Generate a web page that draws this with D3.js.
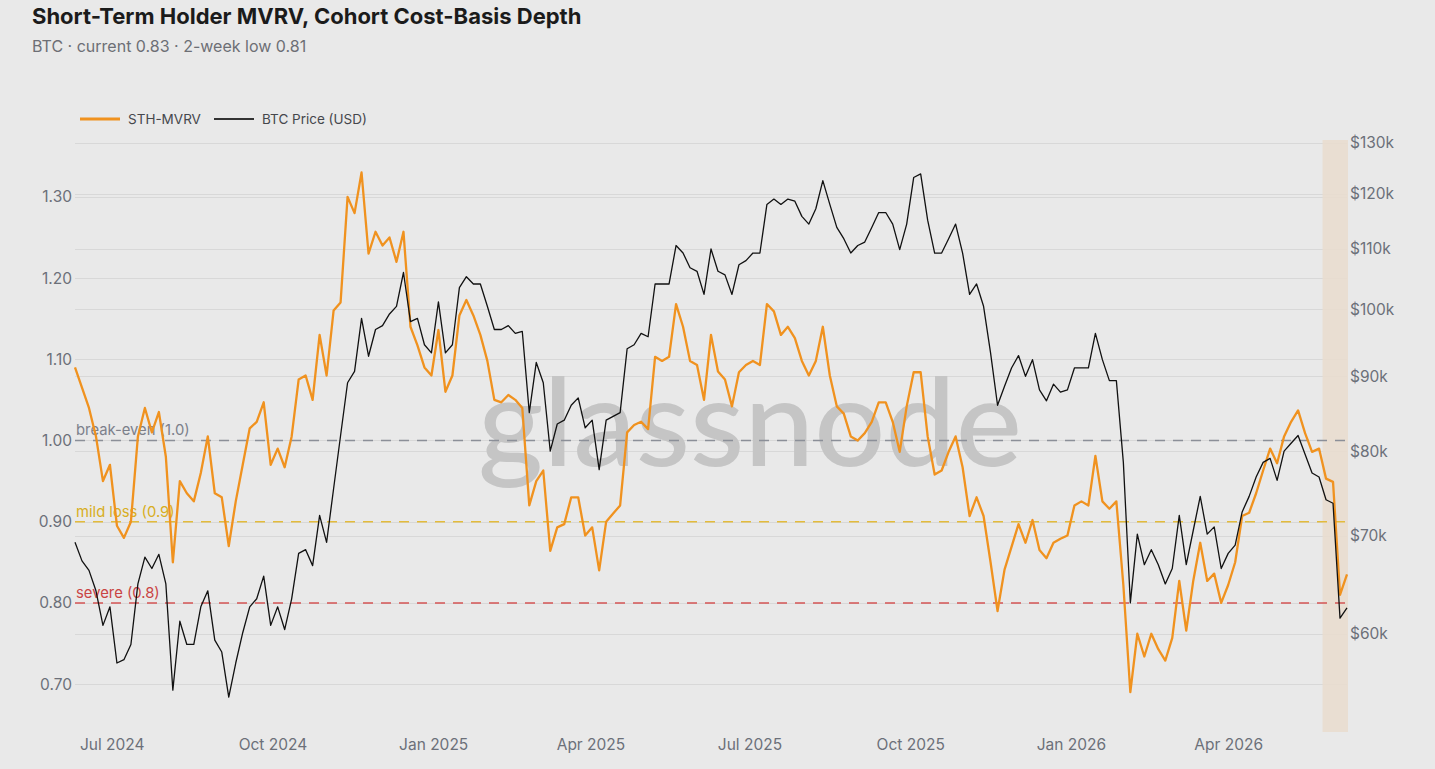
<!DOCTYPE html>
<html>
<head>
<meta charset="utf-8">
<script src="https://cdn.jsdelivr.net/npm/d3@7"></script>
<style>
  body { margin: 0; background: #e9e9e9; }
  svg { display: block; font-family: Inter, "Liberation Sans", sans-serif; }
</style>
</head>
<body>
<svg id="chart" width="1435" height="769"></svg>
<script>
var dates = [
  '2024-06-10','2024-06-14','2024-06-18','2024-06-22','2024-06-26','2024-06-30',
  '2024-07-04','2024-07-08','2024-07-12','2024-07-16','2024-07-20','2024-07-24','2024-07-28',
  '2024-08-01','2024-08-05','2024-08-09','2024-08-13','2024-08-17','2024-08-21','2024-08-25','2024-08-29',
  '2024-09-02','2024-09-06','2024-09-10','2024-09-14','2024-09-18','2024-09-22','2024-09-26','2024-09-30',
  '2024-10-04','2024-10-08','2024-10-12','2024-10-16','2024-10-20','2024-10-24','2024-10-28',
  '2024-11-01','2024-11-05','2024-11-09','2024-11-13','2024-11-17','2024-11-21','2024-11-25','2024-11-29',
  '2024-12-03','2024-12-07','2024-12-11','2024-12-15','2024-12-19','2024-12-23','2024-12-27','2024-12-31',
  '2025-01-04','2025-01-08','2025-01-12','2025-01-16','2025-01-20','2025-01-24','2025-01-28',
  '2025-02-01','2025-02-05','2025-02-09','2025-02-13','2025-02-17','2025-02-21','2025-02-25',
  '2025-03-01','2025-03-05','2025-03-09','2025-03-13','2025-03-17','2025-03-21','2025-03-25','2025-03-29',
  '2025-04-02','2025-04-06','2025-04-10','2025-04-14','2025-04-18','2025-04-22','2025-04-26','2025-04-30',
  '2025-05-04','2025-05-08','2025-05-12','2025-05-16','2025-05-20','2025-05-24','2025-05-28',
  '2025-06-01','2025-06-05','2025-06-09','2025-06-13','2025-06-17','2025-06-21','2025-06-25','2025-06-29',
  '2025-07-03','2025-07-07','2025-07-11','2025-07-15','2025-07-19','2025-07-23','2025-07-27','2025-07-31',
  '2025-08-04','2025-08-08','2025-08-12','2025-08-16','2025-08-20','2025-08-24','2025-08-28',
  '2025-09-01','2025-09-05','2025-09-09','2025-09-13','2025-09-17','2025-09-21','2025-09-25','2025-09-29',
  '2025-10-03','2025-10-07','2025-10-11','2025-10-15','2025-10-19','2025-10-23','2025-10-27','2025-10-31',
  '2025-11-04','2025-11-08','2025-11-12','2025-11-16','2025-11-20','2025-11-24','2025-11-28',
  '2025-12-02','2025-12-06','2025-12-10','2025-12-14','2025-12-18','2025-12-22','2025-12-26','2025-12-30',
  '2026-01-03','2026-01-07','2026-01-11','2026-01-15','2026-01-19','2026-01-23','2026-01-27','2026-01-31',
  '2026-02-04','2026-02-08','2026-02-12','2026-02-16','2026-02-20','2026-02-24','2026-02-28',
  '2026-03-04','2026-03-08','2026-03-12','2026-03-16','2026-03-20','2026-03-24','2026-03-28',
  '2026-04-01','2026-04-05','2026-04-09','2026-04-13','2026-04-17','2026-04-21','2026-04-25','2026-04-29',
  '2026-05-03','2026-05-07','2026-05-11','2026-05-15','2026-05-19','2026-05-23','2026-05-27','2026-05-31',
  '2026-06-04','2026-06-08'
];

var sthMvrv = [
  1.09, 1.065, 1.04, 1.005, 0.95, 0.97, 0.895, 0.88, 0.90, 1.005,
  1.04, 1.01, 1.035, 0.98, 0.85, 0.95, 0.935, 0.925, 0.96, 1.005,
  0.935, 0.93, 0.87, 0.925, 0.97, 1.015, 1.023, 1.047, 0.97, 0.99,
  0.967, 1.005, 1.075, 1.08, 1.05, 1.13, 1.08, 1.16, 1.17, 1.30,
  1.28, 1.33, 1.23, 1.257, 1.24, 1.25, 1.22, 1.257, 1.14, 1.117,
  1.09, 1.08, 1.136, 1.06, 1.08, 1.154, 1.173, 1.154, 1.13, 1.098,
  1.05, 1.047, 1.056, 1.05, 1.04, 0.92, 0.95, 0.963, 0.864, 0.893,
  0.897, 0.93, 0.93, 0.883, 0.893, 0.84, 0.90, 0.91, 0.92, 1.01,
  1.019, 1.023, 1.014, 1.103, 1.098, 1.103, 1.168, 1.14, 1.098, 1.093,
  1.05, 1.13, 1.085, 1.075, 1.042, 1.084, 1.093, 1.098, 1.093, 1.168,
  1.159, 1.13, 1.14, 1.126, 1.098, 1.08, 1.098, 1.14, 1.08, 1.042,
  1.033, 1.005, 1.00, 1.009, 1.023, 1.047, 1.047, 1.023, 0.986, 1.042,
  1.084, 1.084, 1.005, 0.958, 0.963, 0.986, 1.005, 0.967, 0.907, 0.93,
  0.907, 0.85, 0.79, 0.841, 0.869, 0.897, 0.874, 0.902, 0.865, 0.855,
  0.874, 0.879, 0.883, 0.92, 0.925, 0.92, 0.981, 0.925, 0.916, 0.925,
  0.822, 0.69, 0.762, 0.734, 0.762, 0.743, 0.729, 0.757, 0.827, 0.766,
  0.827, 0.874, 0.827, 0.836, 0.80, 0.822, 0.85, 0.907, 0.911, 0.935,
  0.963, 0.99, 0.972, 1.005, 1.023, 1.037, 1.009, 0.986, 0.99, 0.953,
  0.949, 0.81, 0.835
];

// BTC price, thousands of USD
var btcPriceK = [
  69.3, 67.3, 66.3, 64.2, 60.8, 62.6, 57.3, 57.6, 59.0, 64.9,
  67.7, 66.5, 68.0, 64.9, 54.9, 61.2, 59.0, 59.0, 62.6, 64.2,
  59.4, 58.3, 54.3, 57.3, 60.1, 62.6, 63.4, 65.7, 60.8, 62.6,
  60.4, 63.4, 68.1, 68.5, 66.8, 72.3, 69.3, 75.4, 82.0, 89.1,
  90.7, 98.6, 92.9, 96.9, 97.5, 99.3, 100.5, 106.0, 98.1, 98.6,
  94.6, 93.4, 101.2, 93.4, 94.6, 103.5, 105.3, 104.1, 104.1, 100.5,
  96.9, 96.9, 97.5, 96.3, 96.6, 85.0, 92.0, 89.1, 80.0, 83.5,
  84.0, 86.0, 87.0, 83.0, 84.0, 77.7, 84.0, 84.5, 85.0, 94.0,
  94.6, 96.3, 95.8, 104.1, 104.1, 104.1, 110.6, 109.3, 106.8, 106.2,
  102.4, 110.0, 106.2, 105.6, 102.4, 107.3, 108.0, 109.3, 109.3, 118.0,
  119.0, 118.0, 119.0, 118.6, 115.8, 114.4, 117.2, 122.5, 118.0, 113.8,
  111.8, 109.3, 110.6, 111.2, 113.8, 116.5, 116.5, 114.4, 109.9, 114.4,
  123.1, 123.8, 115.1, 109.3, 109.3, 111.8, 114.4, 109.3, 102.4, 104.1,
  100.5, 93.4, 86.0, 88.6, 91.2, 93.0, 90.0, 92.4, 88.1, 86.6,
  88.9, 87.8, 88.1, 91.2, 91.2, 91.2, 96.3, 92.4, 89.4, 89.4,
  78.6, 63.0, 70.2, 66.9, 68.5, 66.9, 64.9, 66.5, 72.3, 66.9,
  70.6, 74.5, 70.2, 71.0, 66.5, 68.1, 69.0, 72.7, 74.5, 76.8,
  78.6, 79.1, 76.4, 80.0, 81.0, 82.0, 79.6, 77.3, 76.8, 74.1,
  73.7, 61.5, 62.5
];

var mvrvTicks = [0.7, 0.8, 0.9, 1.0, 1.1, 1.2, 1.3];
var priceTicksK = [60, 70, 80, 90, 100, 110, 120, 130];
var refValues = [1.0, 0.9, 0.8];
var refLabels = ['break-even (1.0)', 'mild loss (0.9)', 'severe (0.8)'];
var windowStart = '2026-05-25';

var W = 1435, H = 769;
var plot = { left: 75, right: 1347, top: 140, bottom: 732 };
var refColors = ['#8b8f98', '#e3bb3c', '#d35454'];
var refTextColors = ['#7c808b', '#d8ae22', '#c94444'];
var axisColor = '#6c7079';

var parse = d3.utcParse('%Y-%m-%d');
var data = dates.map(function (d, i) {
  return { date: parse(d), mvrv: sthMvrv[i], price: btcPriceK[i] };
});

var x = d3.scaleUtc()
  .domain(d3.extent(data, d => d.date))
  .range([plot.left, plot.right]);
var yL = d3.scaleLinear().domain([0.641, 1.370]).range([plot.bottom, plot.top]);
var yR = d3.scaleLog().domain([51.4, 130.6]).range([plot.bottom, plot.top]);

var svg = d3.select('#chart');

svg.append('rect').attr('width', W).attr('height', H).attr('fill', '#e9e9e9');

// title block
svg.append('text')
  .attr('x', 32).attr('y', 24)
  .attr('font-size', 22).attr('font-weight', 700).attr('fill', '#1b1b1b')
  .text('Short-Term Holder MVRV, Cohort Cost-Basis Depth');
svg.append('text')
  .attr('x', 32).attr('y', 52)
  .attr('font-size', 16).attr('fill', '#6d6f75')
  .text('BTC · current 0.83 · 2-week low 0.81');

// legend
var legend = svg.append('g').attr('font-size', 13.5).attr('fill', '#45474c');
legend.append('line').attr('x1', 80).attr('x2', 120).attr('y1', 119).attr('y2', 119)
  .attr('stroke', '#f0921f').attr('stroke-width', 3);
legend.append('text').attr('x', 128).attr('y', 124).text('STH-MVRV');
legend.append('line').attr('x1', 214).attr('x2', 254).attr('y1', 119).attr('y2', 119)
  .attr('stroke', '#333').attr('stroke-width', 2);
legend.append('text').attr('x', 262).attr('y', 124).text('BTC Price (USD)');

// gridlines for both axes
var grid = svg.append('g').attr('stroke', '#d8d8d8').attr('stroke-width', 1);
mvrvTicks.forEach(function (t) {
  grid.append('line').attr('x1', plot.left).attr('x2', plot.right)
    .attr('y1', Math.round(yL(t)) + 0.5).attr('y2', Math.round(yL(t)) + 0.5);
});
priceTicksK.forEach(function (t) {
  grid.append('line').attr('x1', plot.left).attr('x2', plot.right)
    .attr('y1', Math.round(yR(t)) + 0.5).attr('y2', Math.round(yR(t)) + 0.5);
});

// last two weeks highlight
svg.append('rect')
  .attr('x', x(parse(windowStart))).attr('y', plot.top)
  .attr('width', plot.right - x(parse(windowStart)) + 1).attr('height', plot.bottom - plot.top)
  .attr('fill', '#e9ddcf').attr('opacity', 0.9);

// watermark
svg.append('text')
  .attr('x', 750).attr('y', 466)
  .attr('text-anchor', 'middle')
  .attr('font-family', 'Lato, "Open Sans", sans-serif')
  .attr('font-size', 122).attr('font-weight', 500)
  .attr('fill', '#c5c5c5')
  .attr('textLength', 544).attr('lengthAdjust', 'spacingAndGlyphs')
  .text('glassnode');

// reference levels
var refs = svg.append('g');
refValues.forEach(function (v, i) {
  refs.append('line')
    .attr('x1', plot.left).attr('x2', plot.right)
    .attr('y1', yL(v)).attr('y2', yL(v))
    .attr('stroke', refColors[i]).attr('stroke-width', 1.5)
    .attr('stroke-dasharray', '10,8');
  refs.append('text')
    .attr('x', plot.left + 1).attr('y', yL(v) - 5)
    .attr('font-size', 14.8).attr('fill', refTextColors[i])
    .text(refLabels[i]);
});

// series
svg.append('path').datum(data)
  .attr('fill', 'none').attr('stroke', '#f0921f').attr('stroke-width', 2.3)
  .attr('stroke-linejoin', 'round')
  .attr('d', d3.line().x(d => x(d.date)).y(d => yL(d.mvrv)));

svg.append('path').datum(data)
  .attr('fill', 'none').attr('stroke', '#111').attr('stroke-width', 1.3)
  .attr('stroke-linejoin', 'round')
  .attr('d', d3.line().x(d => x(d.date)).y(d => yR(d.price)));

// axes
var leftAxis = svg.append('g')
  .attr('transform', 'translate(' + plot.left + ',0)')
  .call(d3.axisLeft(yL).tickValues(mvrvTicks).tickFormat(d3.format('.2f')).tickSize(0).tickPadding(3));
var rightAxis = svg.append('g')
  .attr('transform', 'translate(' + plot.right + ',0)')
  .call(d3.axisRight(yR).tickValues(priceTicksK).tickFormat(d => '$' + d + 'k').tickSize(0).tickPadding(3));
var bottomAxis = svg.append('g')
  .attr('transform', 'translate(0,' + plot.bottom + ')')
  .call(d3.axisBottom(x).ticks(d3.utcMonth.every(3)).tickFormat(d3.utcFormat('%b %Y')).tickSize(0).tickPadding(7));

[leftAxis, rightAxis, bottomAxis].forEach(function (g) {
  g.select('.domain').remove();
  g.selectAll('text')
    .attr('font-family', 'Inter, "Liberation Sans", sans-serif')
    .attr('font-size', 15.5).attr('fill', axisColor);
});
</script>
</body>
</html>
